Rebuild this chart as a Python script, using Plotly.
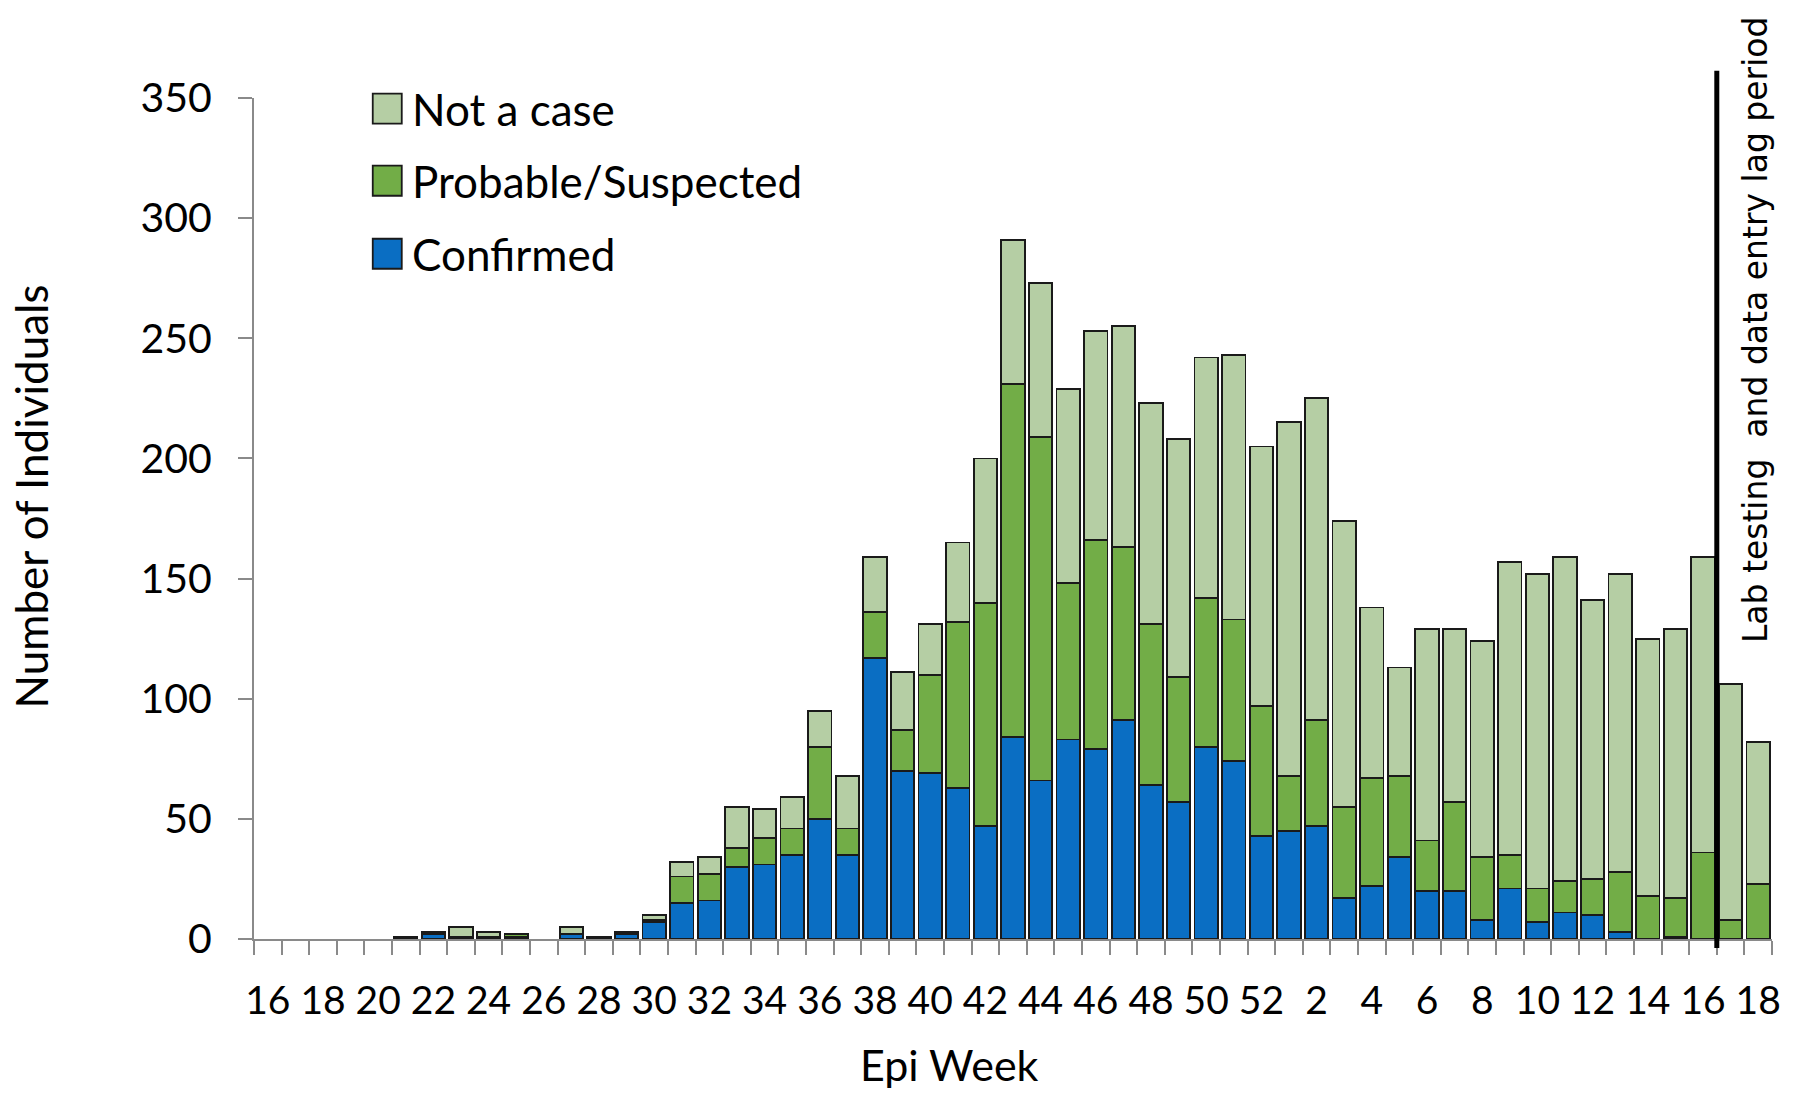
import plotly.graph_objects as go

# ---------------- data ----------------
week_labels = [str(w) for w in range(16, 53)] + [str(w) for w in range(1, 19)]
year = [2014] * 37 + [2015] * 18

confirmed = [0, 0, 0, 0, 0, 1, 2, 0, 1, 1, 0, 2, 1, 2, 7, 15, 16, 30, 31, 35,
             50, 35, 117, 70, 69, 63, 47, 84, 66, 83, 79, 91, 64, 57, 80, 74, 43,
             45, 47, 17, 22, 34, 20, 20, 8, 21, 7, 11, 10, 3, 0, 1, 0, 0, 0]
probable = [0, 0, 0, 0, 0, 0, 1, 1, 0, 1, 0, 0, 0, 1, 1, 11, 11, 8, 11, 11,
            30, 11, 19, 17, 41, 69, 93, 147, 143, 65, 87, 72, 67, 52, 62, 59, 54,
            23, 44, 38, 45, 34, 21, 37, 26, 14, 14, 13, 15, 25, 18, 16, 36, 8, 23]
not_a_case = [0, 0, 0, 0, 0, 0, 0, 4, 2, 0, 0, 3, 0, 0, 2, 6, 7, 17, 12, 13,
              15, 22, 23, 24, 21, 33, 60, 60, 64, 81, 87, 92, 92, 99, 100, 110, 108,
              147, 134, 119, 71, 45, 88, 72, 90, 122, 131, 135, 116, 124, 107, 112, 123, 98, 59]

series_names = ["Confirmed", "Probable/Suspected", "Not a case"]
series_values = [confirmed, probable, not_a_case]
y_ticks = [0, 50, 100, 150, 200, 250, 300, 350]
lag_start = (2015, "17")  # first week of the lab testing / data entry lag period
lag_text = "Lab testing\u00a0\u00a0and data entry lag period"

# ---------------- styles ----------------
colors = ["#0A6EC3", "#72AD47", "#B5CEA4"]
outline = "#1a1a1a"
axis_gray = "#8a8a8a"
FONT = "Lato"

W, H = 1800, 1095
X0, X1 = 254.3, 1771.7   # plot area left/right (px)
YB, YT = 939.0, 98.3     # plot area bottom/top (px)


def px_x(x):
    return (x - X0) / (X1 - X0)


def px_y(y):
    return (YB - y) / (YB - YT)


idx = list(range(len(week_labels)))

fig = go.Figure()
for name, vals, col in zip(series_names, series_values, colors):
    fig.add_trace(go.Bar(
        x=idx, y=[v if v else None for v in vals], name=name,
        marker=dict(color=col, line=dict(color=outline, width=1.8)),
        customdata=[[y, w] for y, w in zip(year, week_labels)],
        hovertemplate="%{customdata[0]} wk %{customdata[1]}<br>" + name + ": %{y}<extra></extra>",
        showlegend=False,
    ))

tick_idx = [i for i in idx if i % 2 == 0]
tick_txt = [week_labels[i] for i in tick_idx]

fig.update_layout(
    width=W, height=H,
    margin=dict(l=int(round(X0)), r=int(round(W - X1)), t=int(round(YT)), b=int(round(H - YB))),
    paper_bgcolor="white", plot_bgcolor="white",
    barmode="stack", bargap=0.15,
    font=dict(family=FONT, size=41, color="black"),
    xaxis=dict(
        range=[-0.5, len(idx) - 0.5], automargin=False,
        tickmode="array", tickvals=tick_idx, ticktext=tick_txt,
        ticks="outside", ticklen=0, tickcolor=axis_gray,
        tickfont=dict(family=FONT, size=39, color="black"),
        ticklabelstandoff=26,
        minor=dict(tickmode="linear", tick0=-0.5, dtick=1, ticks="outside",
                   ticklen=14, tickwidth=2, tickcolor=axis_gray, showgrid=False),
        showline=True, linecolor=axis_gray, linewidth=2,
        showgrid=False, zeroline=False, fixedrange=True,
    ),
    yaxis=dict(
        range=[0, 350], automargin=False,
        tickmode="array", tickvals=y_ticks,
        ticks="outside", ticklen=14, tickwidth=2, tickcolor=axis_gray,
        tickfont=dict(family=FONT, size=41, color="black"),
        ticklabelstandoff=18,
        showline=True, linecolor=axis_gray, linewidth=2,
        showgrid=False, zeroline=False, fixedrange=True,
    ),
)

# lag period marker line
lag_idx = [i for i in idx if (year[i], week_labels[i]) == lag_start][0]
fig.add_shape(type="line", xref="x", yref="paper",
              x0=lag_idx - 0.5, x1=lag_idx - 0.5, y0=px_y(948), y1=px_y(71),
              line=dict(color="black", width=5))
fig.add_annotation(text=lag_text, xref="paper", yref="paper",
                   x=px_x(1755), y=px_y(330), textangle=-90, showarrow=False,
                   xanchor="center", yanchor="middle",
                   font=dict(family="DejaVu Sans", size=33, color="black"))

# axis titles
fig.add_annotation(text="Number of Individuals", xref="paper", yref="paper",
                   x=px_x(31), y=px_y(497), textangle=-90, showarrow=False,
                   xanchor="center", yanchor="middle",
                   font=dict(family=FONT, size=44, color="black"))
fig.add_annotation(text="Epi Week", xref="paper", yref="paper",
                   x=px_x(950), y=px_y(1064), showarrow=False,
                   xanchor="center", yanchor="middle",
                   font=dict(family=FONT, size=43, color="black"))

# custom legend (top to bottom: Not a case, Probable/Suspected, Confirmed)
leg_rows = [254, 181, 109]
for name, col, yc in zip(series_names, colors, leg_rows):
    fig.add_shape(type="rect", xref="paper", yref="paper",
                  x0=px_x(373), x1=px_x(402), y0=px_y(yc + 15), y1=px_y(yc - 15),
                  fillcolor=col, line=dict(color=outline, width=1.8))
    fig.add_annotation(text=name, xref="paper", yref="paper",
                       x=px_x(410), y=px_y(yc), showarrow=False,
                       xanchor="left", yanchor="middle",
                       font=dict(family=FONT, size=44, color="black"))

fig.write_html("out.html", config={"displayModeBar": False},
               post_script="document.body.style.margin='0';")
